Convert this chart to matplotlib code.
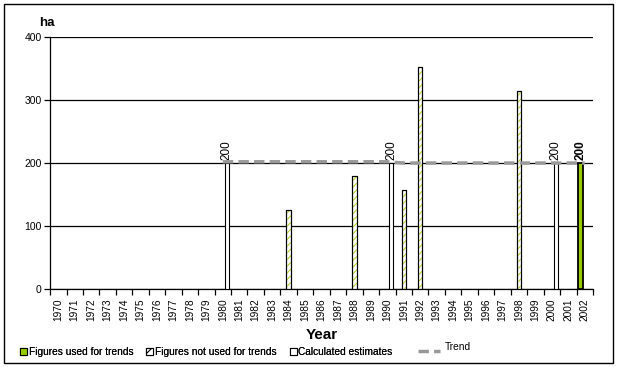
import numpy as np
import matplotlib
matplotlib.use("Agg")
import matplotlib.pyplot as plt
from matplotlib.patches import Patch, Rectangle
from matplotlib.lines import Line2D

plt.rcParams['font.family'] = ['Liberation Sans', 'DejaVu Sans']
plt.rcParams['hatch.linewidth'] = 0.8

years = list(range(1970, 2003))

# series values (ha), NaN where there is no bar
used = {2002: 200}
not_used = {1984: 125, 1988: 179, 1991: 157, 1992: 352, 1998: 314}
estimates = {1980: 200, 1990: 200, 2000: 200}
trend_years = list(range(1980, 2003))
trend_vals = [202] * 11 + [200] * 12

def series(d):
    return np.array([d.get(y, np.nan) for y in years], dtype=float)

s_used = series(used)
s_not = series(not_used)
s_est = series(estimates)

green = '#99CC00'
x = np.arange(len(years))
w = 0.27

fig = plt.figure(figsize=(6.18, 3.67), dpi=100)
ax = fig.add_axes([0.081, 0.2125, 0.8785, 0.6865])

ax.bar(x - 0.24, s_used, 0.3, color=green, edgecolor='black', linewidth=1.3, zorder=3)
ax.bar(x, s_not, w, color='white', edgecolor='black', linewidth=0.8, zorder=3)
ax.bar(x, s_not, w, color='none', edgecolor='#b5d334', hatch='/////', linewidth=0, zorder=3)
ax.bar(x, s_not, w, color='none', edgecolor='black', linewidth=0.8, zorder=3)
ax.bar(x + 0.24, s_est, w, color='white', edgecolor='black', linewidth=0.8, zorder=3)

tx = [years.index(y) for y in trend_years]
ax.plot(tx, trend_vals, color='#999999', lw=2.5, dashes=(3, 1.5), zorder=4)

for i, v in enumerate(s_est):
    if not np.isnan(v):
        ax.text(i + 0.24, v + 5, f"{v:.0f}", rotation=90, ha='center', va='bottom', fontsize=8.5)
for i, v in enumerate(s_used):
    if not np.isnan(v):
        ax.text(i - 0.24, v + 5, f"{v:.0f}", rotation=90, ha='center', va='bottom',
                fontsize=8.5, fontweight='bold')

ax.set_xlim(-0.5, len(years) - 0.5)
ax.set_ylim(0, 400)
ax.set_yticks([0, 100, 200, 300, 400])
ax.yaxis.grid(True, color='black', lw=0.9)
ax.set_axisbelow(True)
for s in ['top', 'right']:
    ax.spines[s].set_visible(False)
ax.spines['left'].set_linewidth(0.9)
ax.spines['bottom'].set_linewidth(0.9)
ax.tick_params(axis='y', labelsize=7.5, length=4, width=0.9, pad=2)

ax.set_xticks(x)
ax.set_xticklabels([str(y) for y in years], rotation=90, fontsize=7.3)
ax.set_xticks(np.arange(-0.5, len(years)), minor=True)
ax.tick_params(axis='x', which='major', length=0, pad=7)
ax.tick_params(axis='x', which='minor', length=4, width=0.9)
ax.set_xlabel('Year', fontsize=11, fontweight='bold', labelpad=5)

fig.text(0.064, 0.938, 'ha', fontsize=9.5, fontweight='bold', ha='left', va='center')

handles = [Patch(facecolor=green, edgecolor='black', lw=0.8),
           Patch(facecolor='white', edgecolor='black', lw=0.8, hatch='///'),
           Patch(facecolor='white', edgecolor='black', lw=0.8)]
labels = ['Figures used for trends', 'Figures not used for trends', 'Calculated estimates']
leg = fig.legend(handles, labels, loc='center left', bbox_to_anchor=(0.024, 0.04), ncol=3,
                 frameon=False, fontsize=7.3, handlelength=0.7, handleheight=0.7,
                 handletextpad=0.15, columnspacing=1.3, borderpad=0)
leg2 = fig.legend([Line2D([], [], color='#999999', lw=2.5, dashes=(3, 1.5))], [''],
                  loc='center left', bbox_to_anchor=(0.665, 0.04), frameon=False,
                  handlelength=1.6, handletextpad=0, borderpad=0)
fig.add_artist(leg)
fig.text(0.72, 0.055, 'Trend', fontsize=7.3, ha='left', va='center')

fig.add_artist(Rectangle((0.006, 0.012), 0.986, 0.978, transform=fig.transFigure,
                         fill=False, edgecolor='black', lw=1))

fig.savefig('out.png', dpi=100)
